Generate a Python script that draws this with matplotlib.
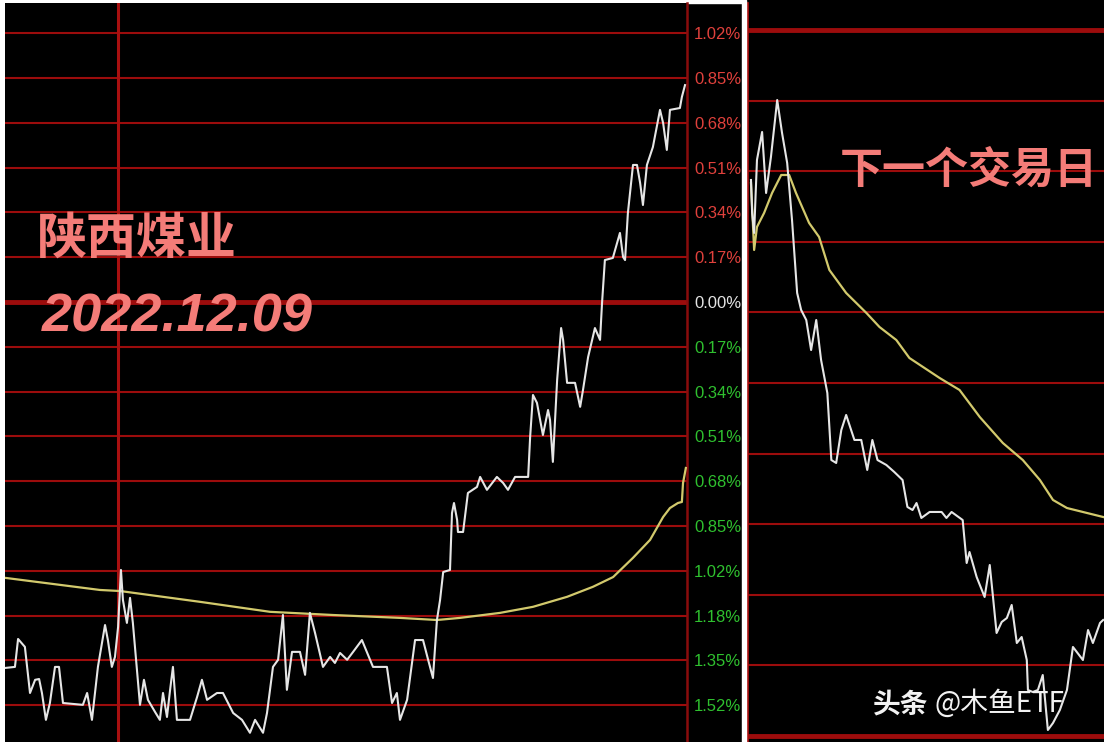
import matplotlib
matplotlib.use('Agg')
import matplotlib.pyplot as plt
from matplotlib.patches import Rectangle

plt.rcParams['font.family'] = ['Noto Sans CJK SC', 'DejaVu Sans']

BG = 'black'
GRID_RED = '#9c0c0c'
PRICE_WHITE = '#e6e6e6'
AVG_YELLOW = '#d2c96c'
SALMON = '#f47c78'

# -----------------------------------------------
# 2022.12.09 intraday (minute, change in %)

day_time = [0, 3.5, 4.6, 7.0, 8.8, 10.6, 12.0, 13.0, 14.4, 15.8, 17.6, 19.0, 20.4,
            27.4, 28.9, 30.6, 32.7, 35.2, 36.2, 37.6, 38.7, 39.8, 40.8, 41.5, 42.9,
            44.0, 45.0, 47.5, 48.9, 50.3, 52.8, 54.5, 55.6, 57.0, 58.1, 59.1, 60.5,
            65.1, 67.6, 69.3, 71.1, 74.6, 76.7, 80.3, 83.4, 86.2, 88.0, 90.8, 92.2,
            94.3, 96.1, 97.8, 99.2, 101.0, 103.8, 105.6, 107.3, 109.1, 111.9, 114.4,
            116.1, 117.9, 120.4, 122.5, 125.6, 129.5, 134.4, 136.2, 137.9, 139.0,
            141.5, 144.3, 147.1, 148.9, 150.6, 152.0, 153.1, 154.2, 156.6, 157.3,
            158.0, 159.1, 159.4, 161.2, 162.9, 166.1, 167.2, 169.6, 173.1, 175.3,
            177.0, 179.5, 184.1, 184.8, 185.8, 187.2, 189.3, 191.1, 191.8, 192.8,
            194.3, 195.7, 196.4, 197.8, 200.6, 202.4, 203.4, 205.2, 207.6, 209.4,
            210.1, 211.1, 213.9, 216.4, 217.5, 218.2, 219.2, 221.0, 222.4, 223.5,
            224.5, 225.9, 228.0, 230.5, 231.6, 232.9, 234.0, 237.5, 238.2, 239.3]

day_price = [-1.389, -1.385, -1.279, -1.309, -1.484, -1.434, -1.431, -1.484, -1.586,
             -1.522, -1.385, -1.385, -1.522, -1.529, -1.484, -1.586, -1.385, -1.226,
             -1.283, -1.385, -1.347, -1.233, -1.017, -1.131, -1.218, -1.123, -1.218,
             -1.529, -1.434, -1.510, -1.556, -1.586, -1.484, -1.575, -1.472, -1.385,
             -1.586, -1.586, -1.499, -1.434, -1.510, -1.484, -1.484, -1.560, -1.586,
             -1.635, -1.586, -1.635, -1.560, -1.385, -1.358, -1.188, -1.472, -1.328,
             -1.328, -1.415, -1.180, -1.256, -1.385, -1.347, -1.370, -1.332, -1.358,
             -1.328, -1.283, -1.385, -1.385, -1.522, -1.484, -1.586, -1.510, -1.283,
             -1.283, -1.358, -1.427, -1.207, -1.131, -1.025, -1.017, -0.801, -0.763,
             -0.827, -0.873, -0.873, -0.725, -0.702, -0.664, -0.713, -0.664, -0.687,
             -0.713, -0.664, -0.664, -0.512, -0.353, -0.383, -0.505, -0.410, -0.448,
             -0.607, -0.296, -0.099, -0.144, -0.307, -0.307, -0.398, -0.334, -0.209,
             -0.099, -0.144, -0.004, 0.159, 0.167, 0.262, 0.171, 0.159, 0.338, 0.520,
             0.520, 0.452, 0.368, 0.520, 0.588, 0.729, 0.679, 0.577, 0.729, 0.736,
             0.778, 0.823]

day_avg_time = [0, 33.4, 40.5, 68.6, 93.3, 115.4, 139.0, 152.0, 160.1, 174.2, 185.8,
                197.8, 206.9, 214.0, 221.0, 227.0, 231.6, 234.0, 236.8, 238.2, 238.6,
                239.6]
day_avg = [-1.047, -1.093, -1.097, -1.138, -1.176, -1.188, -1.199, -1.207, -1.199,
           -1.180, -1.157, -1.119, -1.081, -1.044, -0.971, -0.903, -0.816, -0.782,
           -0.763, -0.759, -0.687, -0.630]

day_ticks = [1.02, 0.85, 0.68, 0.51, 0.34, 0.17, 0.0, -0.17, -0.34, -0.51, -0.68,
             -0.85, -1.02, -1.19, -1.36, -1.53]
day_tick_labels = ['1.02%', '0.85%', '0.68%', '0.51%', '0.34%', '0.17%', '0.00%',
                   '0.17%', '0.34%', '0.51%', '0.68%', '0.85%', '1.02%', '1.18%',
                   '1.35%', '1.52%']

# -----------------------------------------------
# next trading day (minute, change in grid steps)

next_time = [1.4, 1.8, 2.5, 3.5, 5.3, 6.7, 8.4, 10.6, 12.3, 14.1, 15.8, 17.6, 19.0,
             20.8, 22.5, 24.3, 26.0, 28.2, 29.6, 31.3, 33.1, 34.8, 37.7, 40.1, 42.2,
             44.0, 45.8, 48.9, 51.7, 54.6, 56.3, 58.1, 59.5, 61.2, 64.1, 68.3, 70.0,
             71.8, 75.7, 77.1, 78.1, 80.6, 83.4, 85.2, 86.2, 87.6, 89.4, 91.2, 92.9,
             94.7, 96.4, 98.2, 98.6, 100.3, 102.1, 103.8, 105.6, 107.4, 109.8, 112.3,
             114.4, 117.9, 119.7, 121.4, 123.9, 125.0]
next_price = [2.875, 2.408, 2.125, 3.159, 3.555, 2.691, 3.201, 4.008, 3.541, 3.116,
              2.309, 1.275, 1.034, 0.892, 0.467, 0.892, 0.326, -0.142, -1.091, -1.133,
              -0.666, -0.453, -0.807, -0.807, -1.232, -0.807, -1.091, -1.161, -1.261,
              -1.374, -1.756, -1.799, -1.700, -1.912, -1.827, -1.827, -1.912, -1.827,
              -1.941, -2.550, -2.394, -2.748, -3.031, -2.578, -2.975, -3.541, -3.385,
              -3.329, -3.144, -3.683, -3.598, -3.924, -4.348, -4.377, -4.348, -4.136,
              -4.915, -4.816, -4.632, -4.348, -3.739, -3.924, -3.499, -3.683, -3.399,
              -3.357]

next_avg_time = [1.4, 2.5, 3.5, 6.0, 8.8, 12.0, 14.8, 17.2, 21.8, 25.3, 28.9, 34.8,
                 41.9, 46.5, 52.4, 57.0, 67.6, 74.6, 81.7, 89.8, 96.8, 102.8, 107.4,
                 112.3, 119.3, 125.0]
next_avg = [2.833, 1.884, 2.210, 2.408, 2.691, 2.946, 2.946, 2.691, 2.266, 2.068,
            1.601, 1.275, 0.992, 0.793, 0.609, 0.354, 0.071, -0.099, -0.482, -0.850,
            -1.091, -1.374, -1.657, -1.771, -1.841, -1.898]

next_grid = [-5, -4, -3, -2, -1, 0, 1, 2, 3, 4, 5]

# -----------------------------------------------

W, H = 1104, 742
fig = plt.figure(figsize=(W / 100, H / 100), dpi=100, facecolor=BG)

# white screenshot borders and panel separator
fig.add_artist(Rectangle((0, 0), 4 / W, 1, transform=fig.transFigure, color='white', zorder=0))
fig.add_artist(Rectangle((0, 1 - 3 / H), 745 / W, 3 / H, transform=fig.transFigure, color='white', zorder=0))
fig.add_artist(Rectangle((742 / W, 0), 4 / W, 1, transform=fig.transFigure, color='white', zorder=5))

# ---------------- left panel ----------------
ax = fig.add_axes([5 / W, 0, 682 / W, 1 - 3 / H])
ax.set_facecolor(BG)
ax.set_xlim(0, 240)
ax.set_ylim(-1.670, 1.1346)

for t in day_ticks:
    lw = 3.5 if t == 0 else 1.5
    ax.axhline(t, color=GRID_RED, lw=lw, zorder=1)
ax.axvline(39.8, color='#a81010', lw=2.2, zorder=1)

ax.plot(day_avg_time, day_avg, color=AVG_YELLOW, lw=1.6, zorder=3)
ax.plot(day_time, day_price, color=PRICE_WHITE, lw=1.5, zorder=4)

for s in ['top', 'bottom', 'left']:
    ax.spines[s].set_visible(False)
ax.spines['right'].set_color('#8a0c0c')
ax.spines['right'].set_linewidth(1.8)
ax.set_xticks([])
ax.yaxis.tick_right()
ax.set_yticks(day_ticks)
ax.set_yticklabels(day_tick_labels, family='Liberation Sans', fontsize=12)
ax.tick_params(axis='y', length=0, pad=5)
for t, lab in zip(day_ticks, ax.get_yticklabels()):
    if t > 0:
        lab.set_color('#e0413c')
    elif t == 0:
        lab.set_color('#e4e4e4')
    else:
        lab.set_color('#2fc02f')

ax.text(11.2, 0.24, '陕西煤业', color=SALMON, fontsize=36, fontweight='bold',
        ha='left', va='center')
ax.text(12.8, -0.06, '2022.12.09', color=SALMON, fontsize=39, fontweight='bold',
        style='italic', family='Liberation Sans', ha='left', va='center')

# ---------------- right panel ----------------
ax2 = fig.add_axes([747 / W, 0, 357 / W, 1 - 3 / H])
ax2.set_facecolor(BG)
ax2.set_xlim(0, 125.3)
ax2.set_ylim(-5.085, 5.382)

for g in next_grid:
    lw = 3.5 if abs(g) == 5 else 1.5
    ax2.axhline(g, color=GRID_RED, lw=lw, zorder=1)

ax2.plot(next_avg_time, next_avg, color=AVG_YELLOW, lw=1.6, zorder=3)
ax2.plot(next_time, next_price, color=PRICE_WHITE, lw=1.5, zorder=4)

for s in ['top', 'bottom', 'right']:
    ax2.spines[s].set_visible(False)
ax2.spines['left'].set_color('#a81010')
ax2.spines['left'].set_linewidth(2)
ax2.set_xticks([])
ax2.set_yticks([])

ax2.text(0.622, 0.775, '下一个交易日', color=SALMON, fontsize=31, fontweight='bold',
         transform=ax2.transAxes, ha='center', va='center')

fig.text(873 / W, 1 - 704 / H, '头条', color='#f2f2f2', fontsize=20, fontweight='bold',
         ha='left', va='center')
fig.text(934 / W, 1 - 704 / H, '@木鱼ETF', color='#f2f2f2', fontsize=20,
         ha='left', va='center')

plt.savefig('out.png', dpi=100, facecolor=BG)
